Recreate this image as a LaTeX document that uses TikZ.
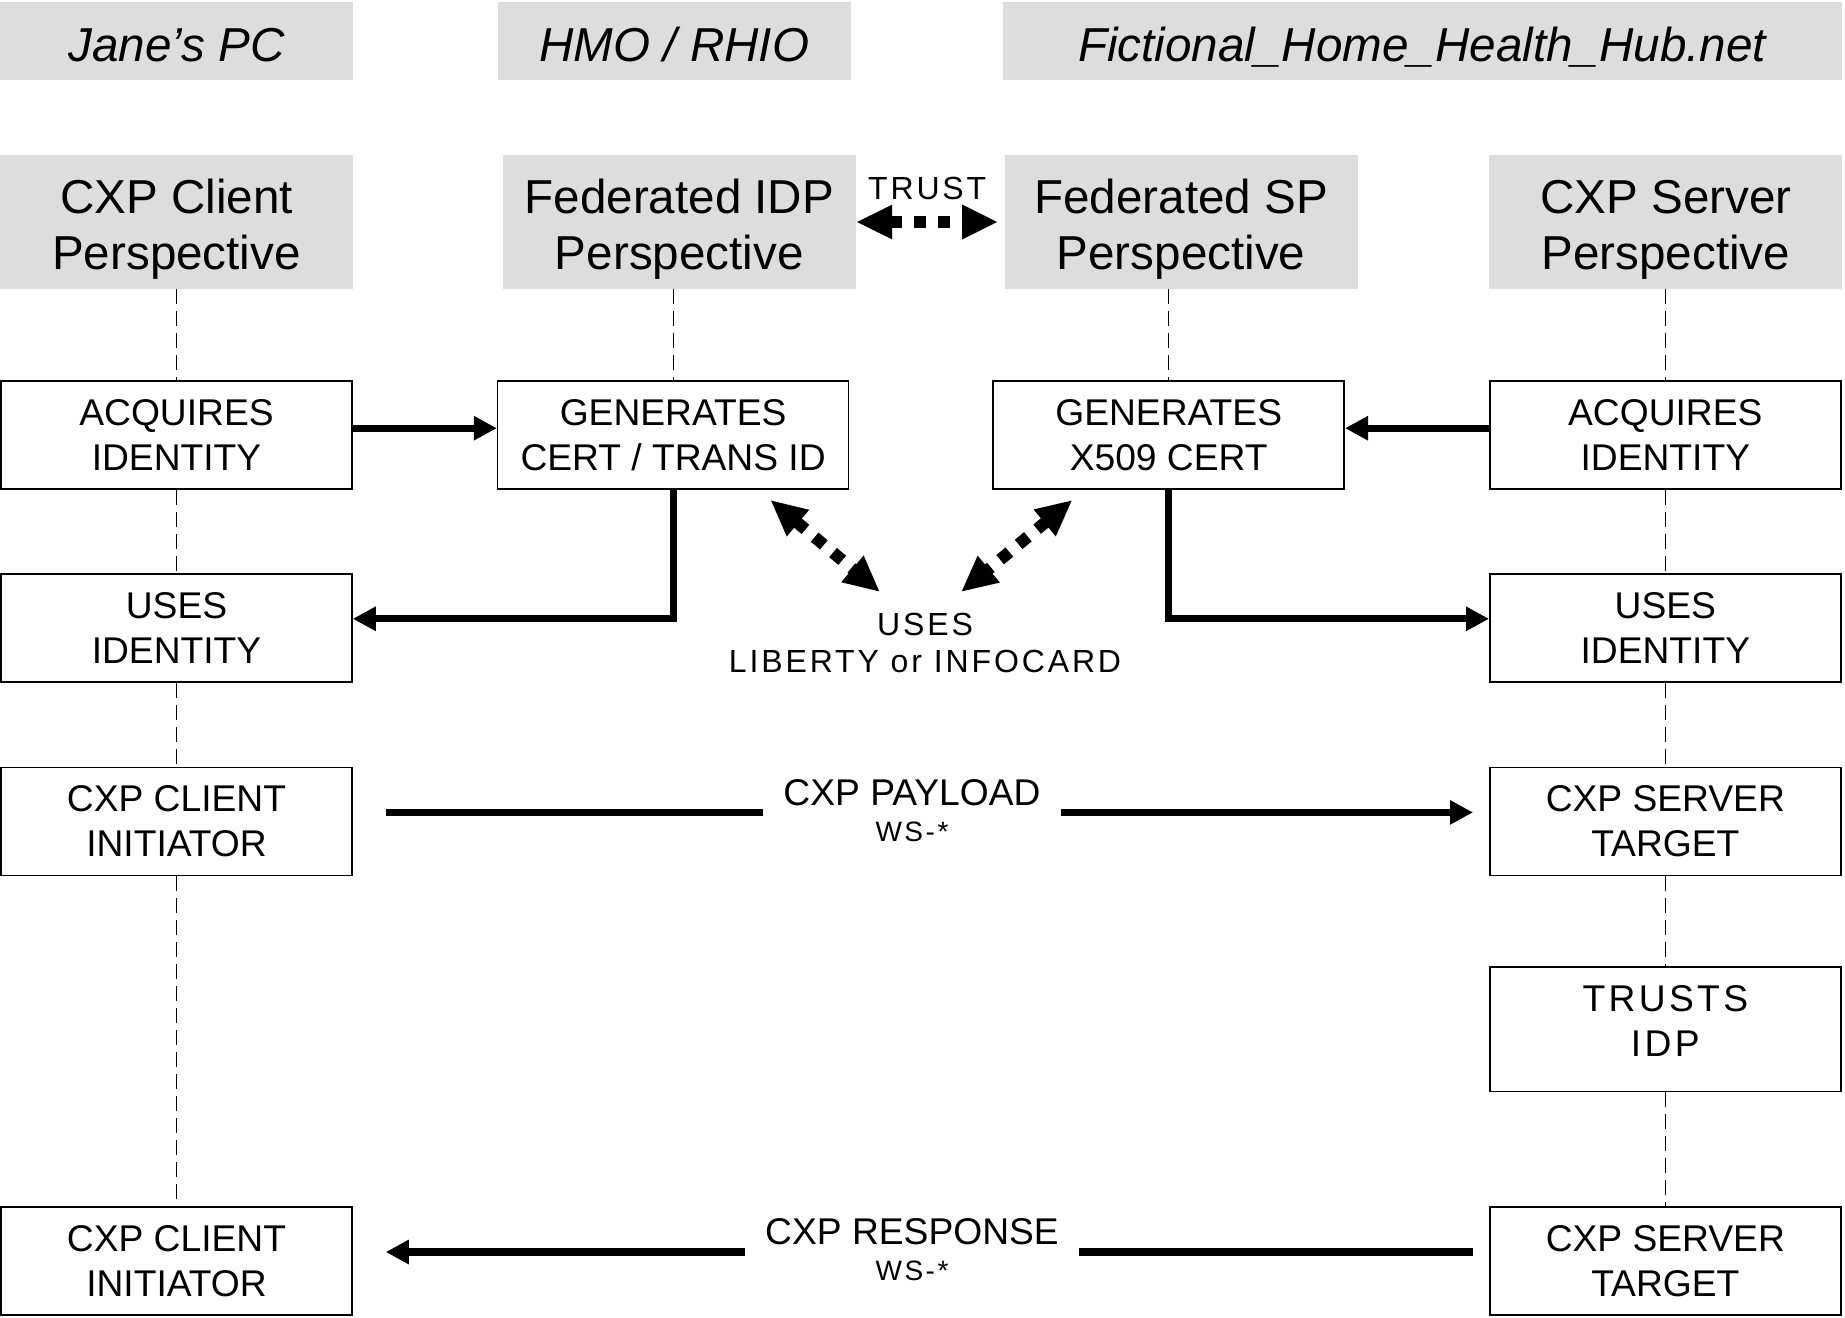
\documentclass[tikz,border=0pt]{standalone}
\usepackage{fontspec}
\setmainfont{Liberation Sans}
\newfontfamily\spacedfont[LetterSpace=9]{Liberation Sans}
\usetikzlibrary{positioning,arrows.meta}
\definecolor{cabecera}{RGB}{221,221,221}
\newcommand{\perspalto}{\rule{0pt}{24.5pt}}
\tikzstyle{HostBox}=[rectangle, fill=cabecera, inner sep=0pt, minimum width=176.5pt, minimum height=39pt, text height=20.5pt, text depth=0pt, font=\fontsize{23.8}{28.25}\selectfont\itshape]
\tikzstyle{PerspBox}=[rectangle, fill=cabecera, inner sep=0pt, align=center, minimum width=176.5pt, minimum height=67pt, font=\fontsize{23.8}{28.25}\selectfont]
\tikzstyle{StepBox}=[rectangle, draw=black, fill=white, line width=0.8pt, inner sep=0pt, align=center, minimum width=175.5pt, minimum height=54pt, font=\fontsize{18.6}{22.4}\selectfont]
\tikzstyle{Etiqueta}=[fill=white, align=center, inner ysep=0pt, inner xsep=10pt, yshift=1pt, font=\fontsize{18.6}{20.5}\selectfont]
\tikzstyle{Flecha}=[-{Triangle[length=11.5pt,width=11.5pt]}, line width=3.6pt]
\tikzstyle{Confia}=[{Triangle[length=18pt,width=16pt]}-{Triangle[length=18pt,width=16pt]}, line width=6pt, dash pattern=on 6pt off 6pt]
\tikzstyle{Vida}=[line width=0.6pt, dash pattern=on 7.5pt off 3.5pt]

\begin{document}
\begin{tikzpicture}[x=0.5pt, y=-0.5pt]
			\useasboundingbox (0,0) rectangle (1845,1317);

			%Cabeceras
			\node[HostBox]	(janes_pc)	at (176.5,41)				{Jane’s PC};
			\node[HostBox]	(hmo)		[right=72pt of janes_pc]	{HMO / RHIO};
			\node[HostBox, minimum width=419.5pt]	(hub)	[right=75.5pt of hmo]	{Fictional\_Home\_Health\_Hub.net};

			%Perspectivas
			\node[PerspBox]	(client)	at (176.5,222)				{\perspalto CXP Client\\Perspective};
			\node[PerspBox]	(idp)		[right=74.5pt of client]	{\perspalto Federated IDP\\Perspective};
			\node[PerspBox]	(sp)		[right=74pt of idp]			{\perspalto Federated SP\\Perspective};
			\node[PerspBox]	(server)	[right=65.5pt of sp]		{\perspalto CXP Server\\Perspective};

			%Pasos
			\node[StepBox]	(client_acq)	[below=45.5pt of client]		{ACQUIRES\\IDENTITY};
			\node[StepBox]	(gen_cert)		[right=72pt of client_acq]		{GENERATES\\CERT / TRANS ID};
			\node[StepBox]	(gen_x509)		[right=71.5pt of gen_cert]		{GENERATES\\X509 CERT};
			\node[StepBox]	(server_acq)	[right=72pt of gen_x509]		{ACQUIRES\\IDENTITY};

			\node[StepBox]	(client_uses)	[below=41.5pt of client_acq]	{USES\\IDENTITY};
			\node[StepBox]	(server_uses)	[below=41.5pt of server_acq]	{USES\\IDENTITY};

			\node[StepBox]	(client_init)	[below=42pt of client_uses]		{CXP CLIENT\\INITIATOR};
			\node[StepBox]	(server_target)	[below=42pt of server_uses]		{CXP SERVER\\TARGET};

			\node[StepBox, minimum height=62.2pt, font=\spacedfont\fontsize{18.6}{22.4}\selectfont]	(server_trusts)	[below=45pt of server_target]	{TRUSTS\\IDP\rule[-8.2pt]{0pt}{8.2pt}};

			\node[StepBox]	(server_target2)	[below=57pt of server_trusts]	{CXP SERVER\\TARGET};
			\node[StepBox]	(client_init2)		at (client_init |- server_target2)	{CXP CLIENT\\INITIATOR};

			\node[align=center, font=\spacedfont\fontsize{16}{18.5}\selectfont]	(uses_lib)	at (925,643)	{USES\\LIBERTY or INFOCARD};
			\coordinate (idp_end)	at (880,592);
			\coordinate (sp_end)	at (961,592);

			%Lineas de vida
			\foreach \a/\b in {client/client_acq, client_acq/client_uses, client_uses/client_init, client_init/client_init2,
				server_acq/server_uses, server_uses/server_target, server_target/server_trusts, server_trusts/server_target2}
				\draw[Vida] (\a.south) -- (\b.north);
			\draw[Vida] (server_acq.north |- server.south) -- (server_acq.north);
			\draw[Vida] (gen_cert.north |- idp.south) -- (gen_cert.north);
			\draw[Vida] (gen_x509.north |- sp.south) -- (gen_x509.north);

			%Lineas
			\draw[Flecha] ([yshift=3.5pt]client_acq.east) -- ([yshift=3.5pt]gen_cert.west);
			\draw[Flecha] ([yshift=3.5pt]server_acq.west) -- ([yshift=3.5pt]gen_x509.east);
			\draw[Flecha] (gen_cert.south) |- ([yshift=4.5pt]client_uses.east);
			\draw[Flecha] (gen_x509.south) |- ([yshift=4.5pt]server_uses.west);

			\draw[Confia] (idp.east) -- ([xshift=-3pt]sp.west)
				node[midway, above=8pt, inner sep=0pt, font=\spacedfont\fontsize{16}{18}\selectfont] (trust_lbl) {TRUST};
			\draw[Confia] ([xshift=-39.5pt, yshift=-5pt]gen_cert.south east) -- (idp_end);
			\draw[Confia] ([xshift=40pt, yshift=-5pt]gen_x509.south west) -- (sp_end);

			\draw[Flecha] ([xshift=16.5pt, yshift=4.5pt]client_init.east) -- ([xshift=-8pt, yshift=4.5pt]server_target.west)
				node[Etiqueta, pos=0.484] (payload) {CXP PAYLOAD\\[-2.5pt]{\spacedfont\fontsize{14}{17}\selectfont WS-*}};
			\draw[Flecha] ([xshift=-8pt, yshift=4.5pt]server_target2.west) -- ([xshift=16.5pt, yshift=4.5pt]client_init2.east)
				node[Etiqueta, pos=0.516] (response) {CXP RESPONSE\\[-2.5pt]{\spacedfont\fontsize{14}{17}\selectfont WS-*}};

		\end{tikzpicture}
\end{document}
